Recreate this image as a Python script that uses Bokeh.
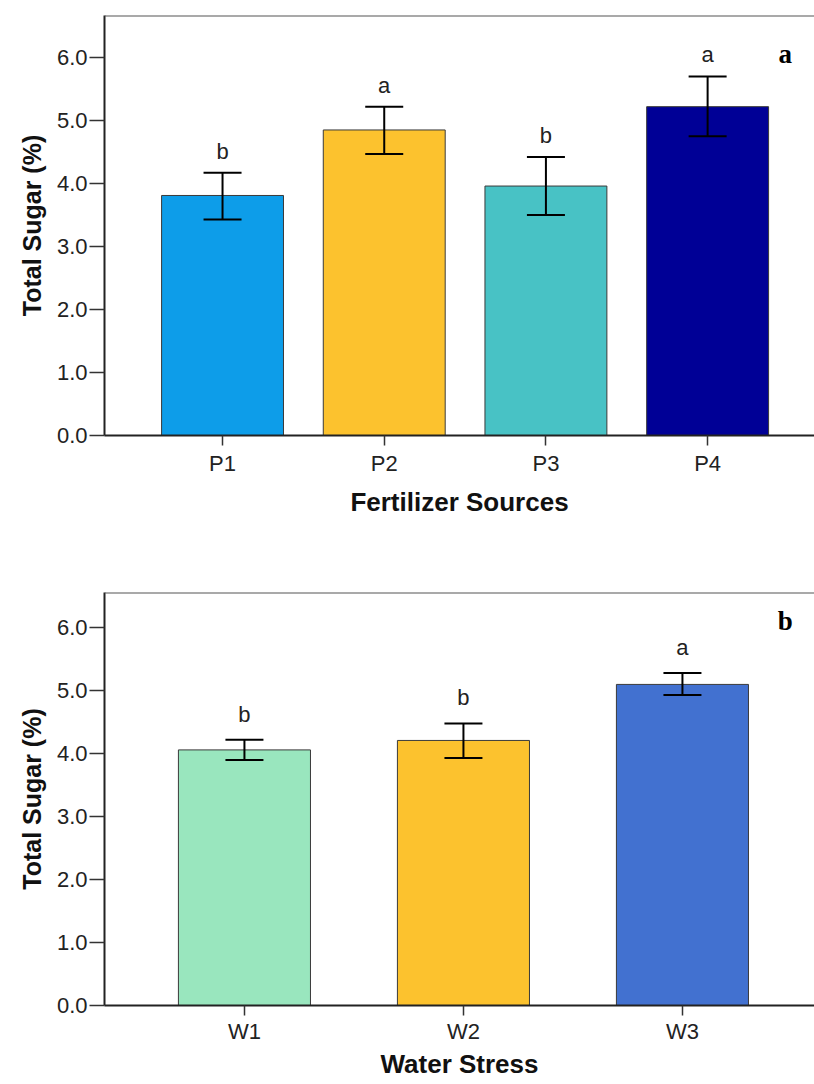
from bokeh.plotting import figure
from bokeh.models import (Range1d, FixedTicker, NumeralTickFormatter, ColumnDataSource,
                          Whisker, TeeHead, Span, Label, LabelSet)
from bokeh.layouts import column
from bokeh.core.properties import value
from bokeh.embed import file_html
from bokeh.resources import INLINE

# ---- data (panel a) ----
fert_cats = ["P1", "P2", "P3", "P4"]
fert_mean = [3.81, 4.85, 3.96, 5.22]
fert_lower = [3.43, 4.47, 3.50, 4.75]
fert_upper = [4.17, 5.22, 4.42, 5.70]
fert_letters = ["b", "a", "b", "a"]
fert_colors = ["#0d9de9", "#fcc22e", "#48c2c5", "#000096"]

# ---- data (panel b) ----
water_cats = ["W1", "W2", "W3"]
water_mean = [4.06, 4.21, 5.10]
water_lower = [3.90, 3.93, 4.93]
water_upper = [4.22, 4.48, 5.28]
water_letters = ["b", "b", "a"]
water_colors = ["#99e6be", "#fcc22e", "#4271d0"]

y_ticks = [0, 1, 2, 3, 4, 5, 6]
y_label = "Total Sugar (%)"

SANS = "Liberation Sans"


def make_panel(cats, mean, lower, upper, letters, colors, xlabel, tag,
               xr, ytop, bar_w, cap_w, height, mbl, mbt, mbb, tag_xy, let_off,
               lab_sd, axl_sd):
    xs = [i + 1 for i in range(len(cats))]
    src = ColumnDataSource(dict(x=xs, cat=cats, mean=mean, lower=lower,
                                upper=upper, letter=letters, color=colors))
    p = figure(width=814, height=height, x_range=Range1d(*xr), y_range=Range1d(0, ytop),
               output_backend="svg", toolbar_location=None,
               min_border_left=mbl, min_border_right=0,
               min_border_top=mbt, min_border_bottom=mbb)
    p.outline_line_color = None
    p.xgrid.visible = False
    p.ygrid.visible = False
    p.background_fill_color = "white"
    p.border_fill_color = "white"

    p.vbar(x="x", top="mean", bottom=0, width=bar_w, fill_color="color",
           line_color="#3a3a3a", line_width=1, source=src)

    head_u = TeeHead(size=cap_w, line_width=2, line_color="black")
    head_l = TeeHead(size=cap_w, line_width=2, line_color="black")
    p.add_layout(Whisker(source=src, base="x", upper="upper", lower="lower",
                         line_width=2, line_color="black", level="annotation",
                         upper_head=head_u, lower_head=head_l))

    p.add_layout(LabelSet(x="x", y="upper", text="letter", source=src,
                          text_align="center", text_baseline="alphabetic",
                          y_offset=let_off, text_font=value(SANS),
                          text_font_size="22px", text_color="#222222"))

    p.add_layout(Span(location=ytop, dimension="width", line_color="#555555",
                      line_width=2))

    p.add_layout(Label(x=tag_xy[0], y=tag_xy[1], text=tag, text_align="center",
                       text_baseline="middle", text_font="Liberation Serif",
                       text_font_style="bold", text_font_size="27px",
                       text_color="black"))

    # x axis
    xa = p.xaxis[0]
    xa.ticker = FixedTicker(ticks=xs)
    xa.major_label_overrides = {x: c for x, c in zip(xs, cats)}
    xa.minor_tick_line_color = None
    xa.major_tick_out = 10
    xa.major_tick_in = 0
    xa.major_tick_line_color = "#333333"
    xa.major_tick_line_width = 1.5
    xa.axis_line_color = "#222222"
    xa.axis_line_width = 2
    xa.major_label_text_font = SANS
    xa.major_label_text_font_size = "22px"
    xa.major_label_text_color = "#222222"
    xa.major_label_standoff = lab_sd
    xa.axis_label = xlabel
    xa.axis_label_text_font = SANS
    xa.axis_label_text_font_style = "bold"
    xa.axis_label_text_font_size = "26px"
    xa.axis_label_text_color = "#111111"
    xa.axis_label_standoff = axl_sd

    # y axis
    ya = p.yaxis[0]
    ya.ticker = FixedTicker(ticks=y_ticks)
    ya.formatter = NumeralTickFormatter(format="0.0")
    ya.minor_tick_line_color = None
    ya.major_tick_out = 15
    ya.major_tick_in = 0
    ya.major_tick_line_color = "#333333"
    ya.major_tick_line_width = 1.5
    ya.axis_line_color = "#222222"
    ya.axis_line_width = 2
    ya.major_label_text_font = SANS
    ya.major_label_text_font_size = "22px"
    ya.major_label_text_color = "#222222"
    ya.major_label_standoff = 2
    ya.axis_label = y_label
    ya.axis_label_text_font = SANS
    ya.axis_label_text_font_style = "bold"
    ya.axis_label_text_font_size = "25px"
    ya.axis_label_text_color = "#111111"
    ya.axis_label_standoff = 8
    return p


pa = make_panel(fert_cats, fert_mean, fert_lower, fert_upper, fert_letters, fert_colors,
                "Fertilizer Sources", "a", (0.270, 4.661), 6.667, 0.754, 38,
                560, 104, 15, 125, (4.48, 6.05), 14, 5, 8)
pb = make_panel(water_cats, water_mean, water_lower, water_upper, water_letters, water_colors,
                "Water Stress", "b", (0.361, 3.603), 6.56, 0.603, 38,
                524, 104, 32, 79, (3.47, 6.10), 18, 3, 2)

layout = column(pa, pb)
open("out.html", "w").write(file_html(layout, INLINE))
